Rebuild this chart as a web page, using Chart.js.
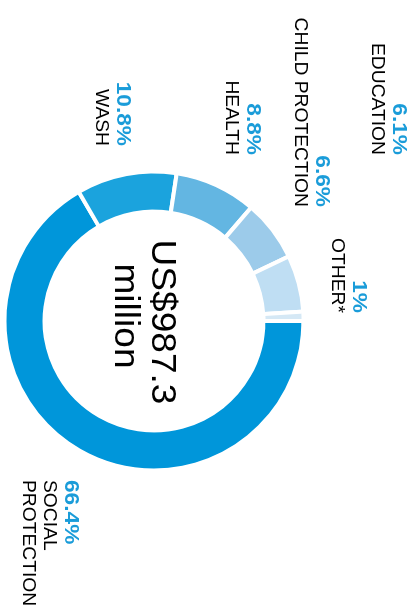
<!DOCTYPE html>
<html>
<head>
<meta charset="utf-8">
<script src="https://cdn.jsdelivr.net/npm/chart.js@4"></script>
<style>
html,body{margin:0;padding:0;background:#fff;overflow:hidden;}
#wrap{position:absolute;left:0;top:0;width:610px;height:414px;transform-origin:0 0;transform:translate(414px,0) rotate(90deg);}
</style>
</head>
<body>
<div id="wrap"><canvas id="c" width="610" height="414"></canvas></div>
<script>
// ---- data ----
const categories = ['SOCIAL PROTECTION', 'WASH', 'HEALTH', 'CHILD PROTECTION', 'EDUCATION', 'OTHER*'];
const shares = [66.4, 10.8, 8.8, 6.6, 6.1, 1];
const pctLabels = ['66.4%', '10.8%', '8.8%', '6.6%', '6.1%', '1%'];
const labelLines = [['SOCIAL', 'PROTECTION'], ['WASH'], ['HEALTH'], ['CHILD PROTECTION'], ['EDUCATION'], ['OTHER*']];
const centerLines = ['US$987.3', 'million'];

// ---- styles / layout ----
const colors = ['#0096da', '#1ba3dd', '#63b6e2', '#9ccbea', '#bfdef3', '#d5e8f5'];
const pctColor = '#1a9cd9';
// label anchors in the unrotated frame: x, baseline of percentage, alignment
const labelPos = [
  {x: 480, y: 349, align: 'left'},
  {x: 146, y: 297, align: 'right'},
  {x: 155, y: 167, align: 'right'},
  {x: 207, y: 98, align: 'right'},
  {x: 155, y: 21, align: 'right'},
  {x: 313, y: 61, align: 'right'}
];
const centerPos = [{x: 322, y: 262}, {x: 316, y: 299}];

function drawText(ctx, txt, x, y, font, color, align, sx) {
  ctx.save();
  ctx.translate(x, y);
  ctx.scale(sx, 1);
  ctx.font = font;
  ctx.fillStyle = color;
  ctx.textAlign = align;
  ctx.textBaseline = 'alphabetic';
  ctx.fillText(txt, 0, 0);
  ctx.restore();
}

const labelPlugin = {
  id: 'labels',
  afterDraw(chart) {
    const ctx = chart.ctx;
    categories.forEach((c, i) => {
      const p = labelPos[i];
      drawText(ctx, pctLabels[i], p.x, p.y, 'bold 21px "Liberation Sans", Arial, sans-serif', pctColor, p.align, 1.08);
      labelLines[i].forEach((ln, j) => {
        drawText(ctx, ln, p.x, p.y + 21 * (j + 1), '18px "Liberation Sans", Arial, sans-serif', '#000', p.align, 1.07);
      });
    });
    centerLines.forEach((ln, j) => {
      drawText(ctx, ln, centerPos[j].x, centerPos[j].y, '35px "Liberation Sans", Arial, sans-serif', '#000', 'center', 1.06);
    });
  }
};

new Chart(document.getElementById('c'), {
  type: 'doughnut',
  data: {
    labels: categories,
    datasets: [{
      data: shares,
      backgroundColor: colors,
      borderColor: '#ffffff',
      borderWidth: 4
    }]
  },
  options: {
    responsive: false,
    animation: false,
    devicePixelRatio: 1,
    radius: 149.5,
    cutout: '73.2%',
    layout: {padding: {left: 171, right: 139, top: 110, bottom: 4}},
    plugins: {legend: {display: false}, tooltip: {enabled: false}}
  },
  plugins: [labelPlugin]
});
</script>
</body>
</html>
